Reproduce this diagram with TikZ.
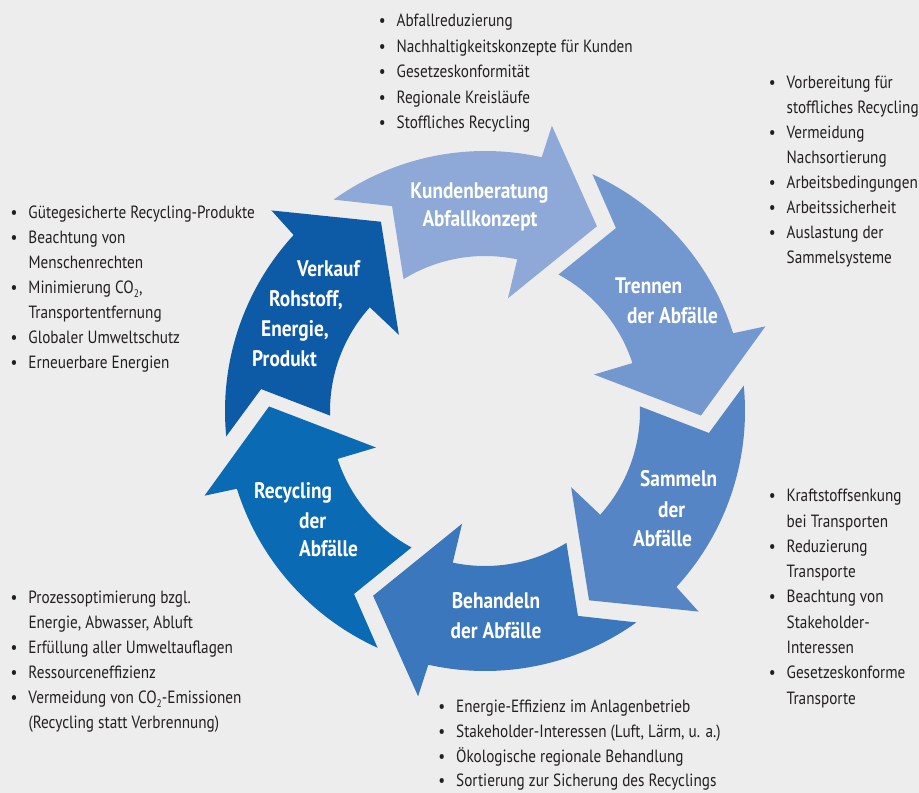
\documentclass[tikz,border=0pt]{standalone}
\usepackage{fontspec}
\setmainfont{PT Sans}[FakeStretch=0.86]
\definecolor{bg}{HTML}{EDEDED}
\definecolor{cA}{HTML}{8EA8D8}
\definecolor{cB}{HTML}{7397CF}
\definecolor{cC}{HTML}{5585C5}
\definecolor{cD}{HTML}{3A77BC}
\definecolor{cE}{HTML}{0A6AB4}
\definecolor{cF}{HTML}{0D5AA7}
\definecolor{txt}{HTML}{231F20}
\newcommand{\cyclearrow}[2]{%
  \fill[#2] (#1+18.6:260pt) arc[start angle=#1+18.6, end angle=#1+66.8, radius=260pt]
    -- (#1+55.6:225pt) -- (#1+62.9:155pt)
    arc[start angle=#1+62.9, end angle=#1+19.2, radius=155pt]
    -- (#1+19.7:115pt) -- (#1:216pt) -- (#1+18:293pt) -- cycle;}
\newcommand{\bul}{\llap{\textbullet\hspace{11pt}}}
\newcommand{\lowtwo}{\raisebox{-4pt}{\fontsize{11}{11}\selectfont 2}}
\newcommand{\itemlist}[5]{%
  \foreach \t [count=\i] in {#5}
    \node[listitem] (#1\i) at ({#2},{-(#3)-(#4)*(\i-1)}) {\t};}
\tikzset{
  listitem/.style={text=txt, font=\fontsize{17.7}{20}\selectfont, inner sep=0pt, anchor=base west},
  lab/.style={text=white, font=\bfseries\fontsize{22.5}{26}\selectfont, inner sep=0pt, anchor=base west},
  labc/.style={lab, anchor=base}
}
\begin{document}
\begin{tikzpicture}[x=1pt,y=1pt]
\fill[bg] (0,0) rectangle (919,-793);
\useasboundingbox (0,0) rectangle (919,-793);
\begin{scope}[shift={(485,-411)}]
  \cyclearrow{58.8}{cA}
  \cyclearrow{-1.2}{cB}
  \cyclearrow{-61.2}{cC}
  \cyclearrow{-121.2}{cD}
  \cyclearrow{-181.2}{cE}
  \cyclearrow{-241.2}{cF}
\end{scope}
% labels in arrows
\node[labc] (kun1) at (479.5,-198.3) {Kundenberatung};
\node[labc] (kun2) at (480,-226.7) {Abfallkonzept};
\node[lab] (tre1) at (615,-293.3) {Trennen};
\node[lab] (tre2) at (627,-323.3) {der Abfälle};
\node[lab] (sam1) at (640,-486.7) {Sammeln};
\node[lab] (sam2) at (658,-517.3) {der};
\node[lab] (sam3) at (633,-546.7) {Abfälle};
\node[labc] (beh1) at (496,-608.3) {Behandeln};
\node[labc] (beh2) at (496,-638.3) {der Abfälle};
\node[lab] (rec1) at (254,-498.3) {Recycling};
\node[lab] (rec2) at (299,-528.3) {der};
\node[lab] (rec3) at (299,-556.7) {Abfälle};
\node[lab] (ver1) at (297,-276.7) {Verkauf};
\node[lab] (ver2) at (269,-306.7) {Rohstoff,};
\node[lab] (ver3) at (261,-336.7) {Energie,};
\node[lab] (ver4) at (252,-366.7) {Produkt};
% lists
\itemlist{top}{396.5}{26.8}{25.4}{{\bul Abfallreduzierung},{\bul Nachhaltigkeitskonzepte für Kunden},{\bul Gesetzeskonformität},{\bul Regionale Kreisläufe},{\bul Stoffliches Recycling}}
\itemlist{ru}{786.5}{88.3}{25}{{\bul Vorbereitung für},{stoffliches Recycling},{\bul Vermeidung},{Nachsortierung},{\bul Arbeitsbedingungen},{\bul Arbeitssicherheit},{\bul Auslastung der},{Sammelsysteme}}
\itemlist{lu}{28.3}{218.3}{25}{{\bul Gütegesicherte Recycling-Produkte},{\bul Beachtung von},{Menschenrechten},{\bul Minimierung CO\lowtwo,},{Transportentfernung},{\bul Globaler Umweltschutz},{\bul Erneuerbare Energien}}
\itemlist{rl}{786.5}{501.7}{25.3}{{\bul Kraftstoffsenkung},{bei Transporten},{\bul Reduzierung},{Transporte},{\bul Beachtung von},{Stakeholder-},{Interessen},{\bul Gesetzeskonforme},{Transporte}}
\itemlist{ll}{28.3}{603.5}{25}{{\bul Prozessoptimierung bzgl.},{Energie, Abwasser, Abluft},{\bul Erfüllung aller Umweltauflagen},{\bul Ressourceneffizienz},{\bul Vermeidung von CO\lowtwo-Emissionen},{(Recycling statt Verbrennung)}}
\itemlist{bot}{456}{712.7}{24.7}{{\bul Energie-Effizienz im Anlagenbetrieb},{\bul Stakeholder-Interessen (Luft, Lärm, u. a.)},{\bul Ökologische regionale Behandlung},{\bul Sortierung zur Sicherung des Recyclings}}
\end{tikzpicture}
\end{document}
